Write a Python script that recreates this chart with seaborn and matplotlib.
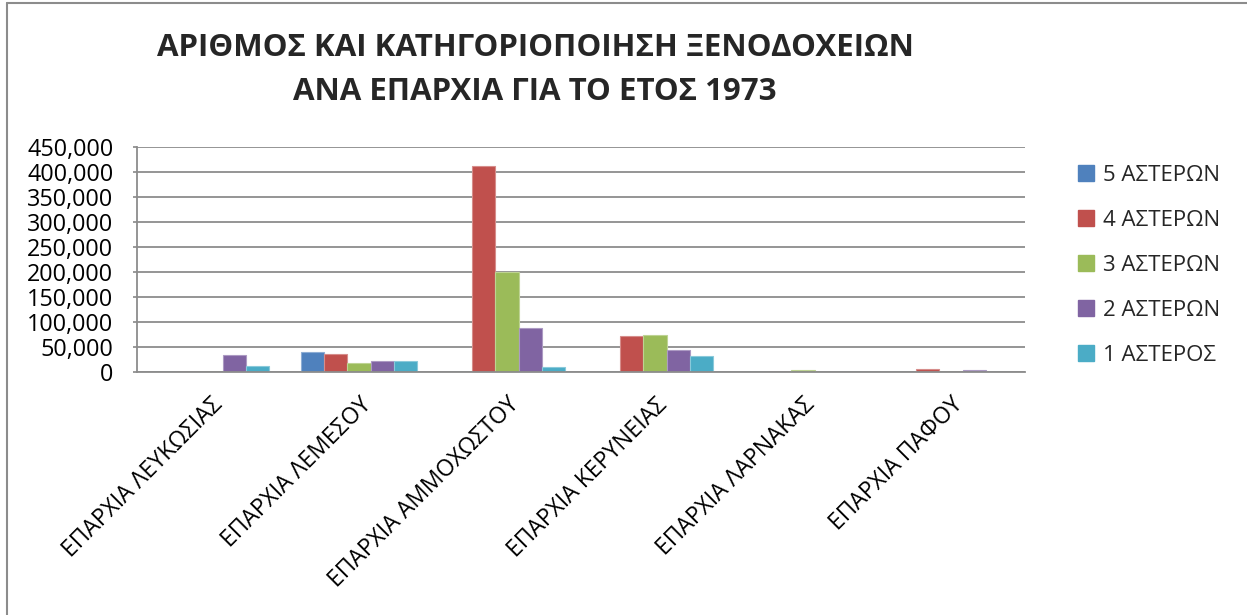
import matplotlib
matplotlib.use("Agg")
import matplotlib.pyplot as plt
import seaborn as sns
import pandas as pd
from matplotlib.lines import Line2D
from matplotlib.ticker import FuncFormatter
from matplotlib.colors import to_rgb

categories = ["ΕΠΑΡΧΙΑ ΛΕΥΚΩΣΙΑΣ", "ΕΠΑΡΧΙΑ ΛΕΜΕΣΟΥ", "ΕΠΑΡΧΙΑ ΑΜΜΟΧΩΣΤΟΥ",
              "ΕΠΑΡΧΙΑ ΚΕΡΥΝΕΙΑΣ", "ΕΠΑΡΧΙΑ ΛΑΡΝΑΚΑΣ", "ΕΠΑΡΧΙΑ ΠΑΦΟΥ"]
series_names = ["5 ΑΣΤΕΡΩΝ", "4 ΑΣΤΕΡΩΝ", "3 ΑΣΤΕΡΩΝ", "2 ΑΣΤΕΡΩΝ", "1 ΑΣΤΕΡΟΣ"]
stars5 = [600, 41000, 0, 0, 0, 0]
stars4 = [500, 37000, 412000, 73000, 700, 5500]
stars3 = [500, 18000, 200500, 74500, 4500, 700]
stars2 = [34000, 23000, 89000, 44000, 900, 4500]
stars1 = [12000, 22000, 10000, 32000, 0, 0]
yticks = [0, 50000, 100000, 150000, 200000, 250000, 300000, 350000, 400000, 450000]
title = "ΑΡΙΘΜΟΣ ΚΑΙ ΚΑΤΗΓΟΡΙΟΠΟΙΗΣΗ ΞΕΝΟΔΟΧΕΙΩΝ\nΑΝΑ ΕΠΑΡΧΙΑ ΓΙΑ ΤΟ ΕΤΟΣ 1973"
colors = ["#4F81BD", "#C0504D", "#9BBB59", "#8064A2", "#4BACC6"]

rows = []
for name, vals in zip(series_names, [stars5, stars4, stars3, stars2, stars1]):
    for c, v in zip(categories, vals):
        rows.append({"cat": c, "series": name, "value": v})
df = pd.DataFrame(rows)

sns.set_theme(style="white")
plt.rcParams['font.family'] = ['Open Sans', 'DejaVu Sans']

fig = plt.figure(figsize=(12.47, 6.15), dpi=100)
ax = fig.add_axes([137/1247, 1 - 372/615, (1025-137)/1247, (372-147)/615])

sns.barplot(data=df, x="cat", y="value", hue="series", palette=colors,
            order=categories, hue_order=series_names, ax=ax, width=0.78,
            saturation=1, legend=False, linewidth=0.8)

for p in ax.patches:
    r, g, b = to_rgb(p.get_facecolor())
    p.set_edgecolor((r + (1 - r) * 0.35, g + (1 - g) * 0.35, b + (1 - b) * 0.35))

ax.set_ylim(0, 450000)
ax.set_xlim(-0.5, len(categories) - 0.5)
ax.set_yticks(yticks)
ax.yaxis.set_major_formatter(FuncFormatter(lambda v, p: f"{int(v):,}"))
ax.yaxis.grid(True, color="#8c8c8c", linewidth=1.3)
ax.set_axisbelow(True)
for s in ["top", "right"]:
    ax.spines[s].set_visible(False)
ax.spines["left"].set_color("#8c8c8c")
ax.spines["bottom"].set_color("#8c8c8c")
ax.spines["left"].set_linewidth(1.3)
ax.spines["bottom"].set_linewidth(1.3)
ax.set_xlabel("")
ax.set_ylabel("")
ax.tick_params(axis="y", labelsize=16.8, colors="black", left=True, length=3, color="#8c8c8c", pad=14)
ax.tick_params(axis="x", labelsize=16.5, colors="black", bottom=False, pad=9)
ax.set_xticks(range(len(categories)))
ax.set_xticklabels(categories, rotation=45, ha="right", rotation_mode="anchor")

handles = [Line2D([0], [0], marker="s", linestyle="", markersize=11,
                  markerfacecolor=c, markeredgecolor=c) for c in colors]
fig.legend(handles, series_names, loc="upper left", bbox_to_anchor=(1066/1247, 1 - 156/615),
           frameon=False, fontsize=16, labelspacing=1.08, handletextpad=0.25,
           borderaxespad=0, handlelength=1.0)

fig.text(535/1247, 1 - 70/615, title, ha="center", va="center", fontsize=22.5,
         fontweight="bold", linespacing=1.65, family=['Open Sans', 'DejaVu Sans'])

fig.add_artist(Line2D([7/1247, 7/1247], [0, 1 - 3/615], transform=fig.transFigure,
                      color="#8c8c8c", linewidth=1.5))
fig.add_artist(Line2D([7/1247, 1], [1 - 3/615, 1 - 3/615], transform=fig.transFigure,
                      color="#8c8c8c", linewidth=1.5))

fig.savefig("out.png", dpi=100)
